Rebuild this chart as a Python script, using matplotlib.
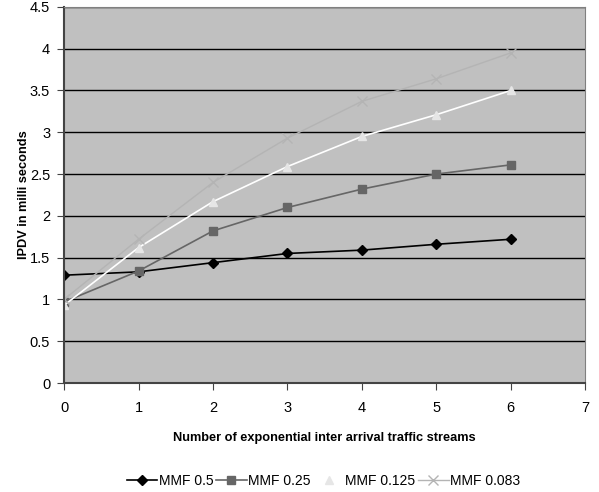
import numpy as np
import matplotlib.pyplot as plt

plt.rcParams['font.family'] = ['Liberation Sans', 'DejaVu Sans']

streams = [0, 1, 2, 3, 4, 5, 6]
mmf_05 = [1.29, 1.33, 1.44, 1.55, 1.59, 1.66, 1.72]
mmf_025 = [0.97, 1.34, 1.82, 2.10, 2.32, 2.50, 2.61]
mmf_0125 = [0.93, 1.62, 2.17, 2.59, 2.95, 3.21, 3.50]
mmf_0083 = [1.00, 1.72, 2.40, 2.93, 3.37, 3.64, 3.95]

fig = plt.figure(figsize=(5.99, 4.92), dpi=100)
ax = fig.add_axes([0.107, 0.2215, 0.870, 0.7645])
ax.set_facecolor('#c0c0c0')

ax.plot(streams, mmf_05, color='black', lw=1.2, marker='D', ms=5, label='MMF 0.5')
ax.plot(streams, mmf_025, color='#666666', lw=1.2, marker='s', ms=6, label='MMF 0.25')
ax.plot(streams, mmf_0125, color='white', lw=1.2, marker='^', ms=6,
        mfc='#e6e6e6', mec='#e6e6e6', label='MMF 0.125')
ax.plot(streams, mmf_0083, color='#b4b4b4', lw=1.0, marker='x', ms=7, mew=1.0,
        label='MMF 0.083')

ax.set_xlim(0, 7)
ax.set_ylim(0, 4.5)
ax.set_xticks(range(8))
ax.set_yticks([0, 0.5, 1, 1.5, 2, 2.5, 3, 3.5, 4, 4.5])
ax.set_yticklabels(['0', '0.5', '1', '1.5', '2', '2.5', '3', '3.5', '4', '4.5'])
ax.yaxis.grid(True, color='black', lw=1)
ax.set_axisbelow(True)
ax.tick_params(direction='out', length=5, labelsize=10.5, color='#444444')
ax.tick_params(axis='x', pad=8)
ax.tick_params(axis='y', pad=5)

for s in ['top', 'right']:
    ax.spines[s].set_color('#808080')
for s in ['left', 'bottom']:
    ax.spines[s].set_color('#444444')
    ax.spines[s].set_linewidth(1.5)

ax.set_xlabel('Number of exponential inter arrival traffic streams',
              fontsize=9.2, fontweight='bold', labelpad=12)
ax.set_ylabel('IPDV in milli seconds', fontsize=9.2, fontweight='bold', labelpad=0)

fig.legend(loc='center', bbox_to_anchor=(0.54, 0.022), ncol=4, frameon=False,
           fontsize=10, handlelength=2.2, handletextpad=0.1, columnspacing=0.2)

fig.savefig('out.png', dpi=100)
